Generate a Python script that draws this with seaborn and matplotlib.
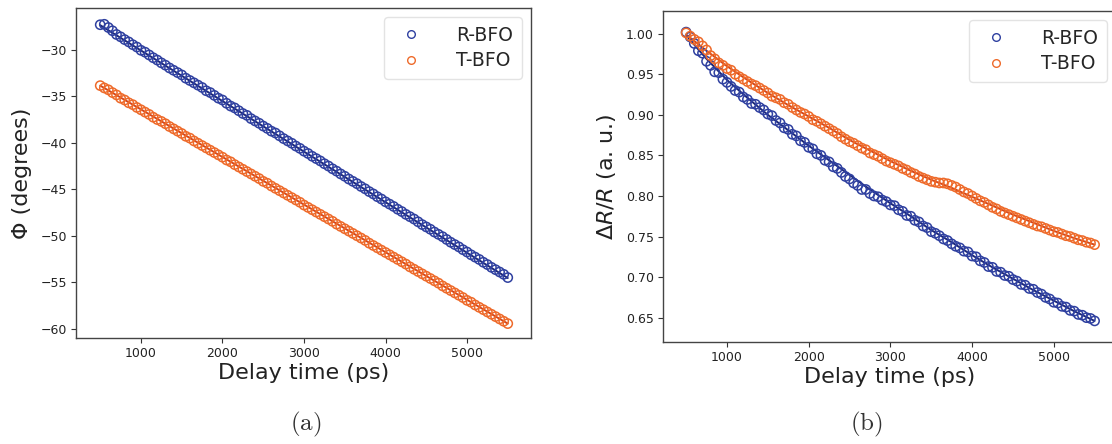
import numpy as np
import pandas as pd
import matplotlib
matplotlib.use("Agg")
import matplotlib.pyplot as plt
from matplotlib.lines import Line2D
import seaborn as sns

# ---------------- data ----------------
delay = list(range(500, 5501, 50))  # ps

phi_R = [-27.30, -27.25, -27.60, -27.95, -28.35, -28.60, -28.90, -29.15, -29.45, -29.70,
         -30.05, -30.25, -30.55, -30.85, -31.10, -31.40, -31.65, -31.95, -32.20, -32.45,
         -32.70, -33.05, -33.30, -33.55, -33.80, -34.05, -34.40, -34.60, -34.90, -35.20,
         -35.40, -35.75, -36.05, -36.25, -36.55, -36.85, -37.05, -37.40, -37.65, -37.90,
         -38.20, -38.45, -38.75, -38.95, -39.25, -39.55, -39.80, -40.05, -40.35, -40.60,
         -40.90, -41.15, -41.45, -41.70, -41.95, -42.25, -42.50, -42.80, -43.05, -43.35,
         -43.60, -43.90, -44.15, -44.40, -44.70, -44.95, -45.25, -45.50, -45.80, -46.05,
         -46.35, -46.60, -46.85, -47.15, -47.40, -47.70, -47.95, -48.20, -48.50, -48.80,
         -49.05, -49.30, -49.60, -49.85, -50.10, -50.40, -50.70, -50.95, -51.20, -51.50,
         -51.75, -52.05, -52.30, -52.55, -52.85, -53.10, -53.40, -53.65, -53.90, -54.15,
         -54.50]

phi_T = [-33.85, -34.10, -34.30, -34.60, -34.85, -35.20, -35.40, -35.70, -35.90, -36.20,
         -36.45, -36.70, -36.95, -37.25, -37.50, -37.70, -37.95, -38.25, -38.50, -38.75,
         -39.00, -39.30, -39.50, -39.80, -40.05, -40.30, -40.55, -40.80, -41.05, -41.30,
         -41.55, -41.85, -42.05, -42.35, -42.60, -42.85, -43.10, -43.35, -43.60, -43.85,
         -44.15, -44.35, -44.65, -44.90, -45.15, -45.40, -45.65, -45.90, -46.15, -46.40,
         -46.70, -46.95, -47.20, -47.45, -47.70, -47.95, -48.20, -48.45, -48.75, -49.00,
         -49.25, -49.50, -49.75, -50.00, -50.25, -50.50, -50.80, -51.05, -51.30, -51.55,
         -51.80, -52.05, -52.30, -52.55, -52.80, -53.05, -53.35, -53.60, -53.85, -54.10,
         -54.35, -54.60, -54.85, -55.10, -55.40, -55.65, -55.90, -56.15, -56.40, -56.65,
         -56.95, -57.15, -57.45, -57.70, -57.95, -58.20, -58.45, -58.70, -58.95, -59.20,
         -59.45]

dr_R = [1.002, 0.996, 0.988, 0.979, 0.976, 0.966, 0.961, 0.953, 0.952, 0.944,
        0.940, 0.935, 0.930, 0.928, 0.922, 0.919, 0.914, 0.913, 0.909, 0.906,
        0.901, 0.899, 0.893, 0.890, 0.884, 0.882, 0.876, 0.874, 0.868, 0.866,
        0.860, 0.858, 0.852, 0.850, 0.844, 0.842, 0.836, 0.834, 0.829, 0.824,
        0.821, 0.816, 0.813, 0.808, 0.808, 0.803, 0.800, 0.799, 0.795, 0.793,
        0.789, 0.788, 0.783, 0.781, 0.776, 0.775, 0.770, 0.768, 0.763, 0.761,
        0.756, 0.754, 0.751, 0.747, 0.745, 0.741, 0.738, 0.736, 0.732, 0.731,
        0.726, 0.725, 0.720, 0.718, 0.713, 0.712, 0.707, 0.706, 0.702, 0.701,
        0.697, 0.695, 0.691, 0.690, 0.686, 0.685, 0.681, 0.679, 0.675, 0.673,
        0.669, 0.668, 0.664, 0.663, 0.659, 0.658, 0.654, 0.653, 0.650, 0.649,
        0.646]

dr_T = [1.001, 0.997, 0.993, 0.990, 0.985, 0.980, 0.973, 0.969, 0.964, 0.961,
        0.957, 0.955, 0.950, 0.947, 0.944, 0.941, 0.938, 0.936, 0.933, 0.930,
        0.927, 0.923, 0.921, 0.919, 0.915, 0.913, 0.909, 0.906, 0.903, 0.901,
        0.898, 0.894, 0.892, 0.889, 0.886, 0.883, 0.880, 0.877, 0.873, 0.870,
        0.867, 0.865, 0.862, 0.859, 0.857, 0.853, 0.851, 0.849, 0.846, 0.843,
        0.841, 0.839, 0.837, 0.834, 0.832, 0.829, 0.827, 0.824, 0.822, 0.820,
        0.818, 0.817, 0.816, 0.816, 0.815, 0.813, 0.811, 0.808, 0.805, 0.803,
        0.800, 0.797, 0.794, 0.792, 0.789, 0.786, 0.784, 0.781, 0.779, 0.777,
        0.775, 0.773, 0.771, 0.769, 0.767, 0.765, 0.763, 0.762, 0.760, 0.758,
        0.756, 0.755, 0.753, 0.751, 0.750, 0.748, 0.746, 0.745, 0.743, 0.742,
        0.740]

# fit curves
fit_x_lin = [500, 5500]
fit_phi_R = [-27.35, -54.55]
fit_phi_T = [-33.85, -59.45]

fit_x = list(range(500, 5501, 250))
fit_dr_R = [0.998, 0.969, 0.943, 0.921, 0.900, 0.881, 0.862, 0.844, 0.826, 0.808, 0.791,
            0.775, 0.758, 0.743, 0.727, 0.712, 0.698, 0.684, 0.671, 0.658, 0.646]
fit_dr_T = [0.999, 0.979, 0.960, 0.943, 0.927, 0.912, 0.898, 0.884, 0.869, 0.856, 0.843,
            0.831, 0.820, 0.810, 0.799, 0.788, 0.777, 0.767, 0.757, 0.748, 0.740]

labels = ["R-BFO", "T-BFO"]
xticks = [1000, 2000, 3000, 4000, 5000]
phi_ticks = [-30, -35, -40, -45, -50, -55, -60]
dr_ticks = [0.65, 0.70, 0.75, 0.80, 0.85, 0.90, 0.95, 1.00]

pt_colors = {"R-BFO": "#2f40a0", "T-BFO": "#ee6a2a"}
fit_colors = {"R-BFO": "#1c2778", "T-BFO": "#d4461a"}

# ---------------- style ----------------
sns.set_theme(style="ticks")
plt.rcParams["font.family"] = ["DejaVu Sans"]
plt.rcParams["mathtext.fontset"] = "dejavusans"

fig = plt.figure(figsize=(11.12, 4.44), dpi=100)
axA = fig.add_axes([76 / 1112, 106 / 444, 455 / 1112, 330 / 444])
axB = fig.add_axes([663 / 1112, 102 / 444, 453 / 1112, 331 / 444])


def draw(ax, yR, yT, fx, fR, fT):
    df = pd.DataFrame({"delay": delay * 2, "val": yR + yT,
                       "sample": ["R-BFO"] * len(delay) + ["T-BFO"] * len(delay)})
    dfit = pd.DataFrame({"delay": fx * 2, "val": fR + fT,
                         "sample": ["R-BFO"] * len(fx) + ["T-BFO"] * len(fx)})
    sns.lineplot(data=dfit, x="delay", y="val", hue="sample", palette=fit_colors,
                 ax=ax, legend=False, linewidth=1.4, zorder=1)
    for lab in labels:
        sub = df[df["sample"] == lab]
        sns.scatterplot(data=sub, x="delay", y="val", ax=ax, marker="o", s=44,
                        color=pt_colors[lab], legend=False, zorder=2)
        coll = ax.collections[-1]
        coll.set_facecolor("none")
        coll.set_edgecolor(pt_colors[lab])
        coll.set_linewidth(1.1)
    handles = [Line2D([], [], ls="", marker="o", mfc="none", mec=pt_colors[l],
                      ms=5.5, mew=1.0) for l in labels]
    leg = ax.legend(handles, labels, loc="upper right", fontsize=13.5, frameon=True,
                    handletextpad=1.4, borderpad=0.45, labelspacing=0.35)
    leg.get_frame().set_edgecolor("#dddddd")
    ax.set_xticks(xticks)
    ax.tick_params(axis="both", labelsize=9, length=3.5, width=0.8, color="#333333",
                   labelcolor="#222222", pad=3)
    for sp in ax.spines.values():
        sp.set_visible(True)
        sp.set_color("#444444")
        sp.set_linewidth(1.0)
    ax.set_xlabel("Delay time (ps)", fontsize=16, color="#222222", labelpad=2)


draw(axA, phi_R, phi_T, fit_x_lin, fit_phi_R, fit_phi_T)
axA.set_xlim(203, 5785)
axA.set_ylim(-61.0, -25.5)
axA.set_yticks(phi_ticks)
axA.set_ylabel("Φ (degrees)", fontsize=16, color="#222222", labelpad=6)

draw(axB, dr_R, dr_T, fit_x, fit_dr_R, fit_dr_T)
axB.set_xlim(217, 5762)
axB.set_ylim(0.620, 1.028)
axB.set_yticks(dr_ticks)
axB.set_ylabel(r"$\Delta R/R$ (a. u.)", fontsize=16, color="#222222", labelpad=6)

fig.text(306 / 1112, 1 - 424 / 444, r"$\mathrm{(a)}$", fontsize=18, math_fontfamily="cm",
         ha="center", va="center", color="#333333")
fig.text(866 / 1112, 1 - 424 / 444, r"$\mathrm{(b)}$", fontsize=18, math_fontfamily="cm",
         ha="center", va="center", color="#333333")

fig.savefig("out.png", dpi=100, facecolor="white")
